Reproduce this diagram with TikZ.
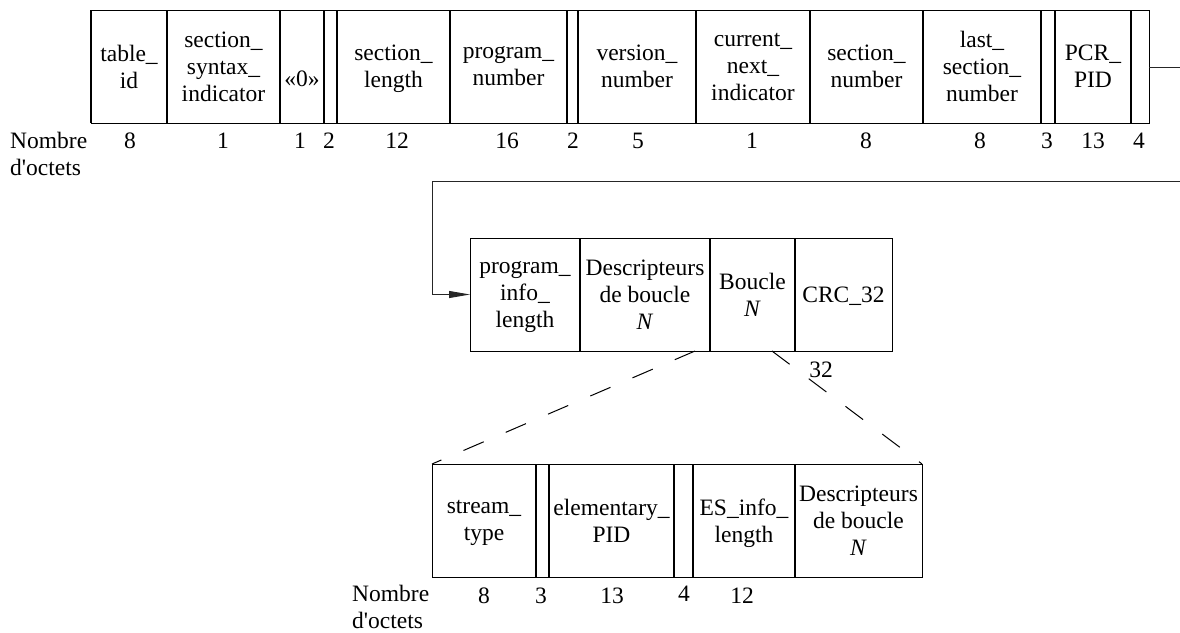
\documentclass[tikz,border=0pt]{standalone}
\usepackage{fontspec}
\setmainfont{Liberation Serif}
\usetikzlibrary{arrows.meta}
\newcommand\myfs{\fontsize{23.5}{27}\selectfont}
\newcommand\nodp[1]{\raisebox{0pt}[\height][0pt]{#1}}
\begin{document}
\begin{tikzpicture}[x=1pt,y=-1pt,
  cell/.style={draw, line width=1pt, inner sep=0pt, outer sep=0pt, anchor=north west,
    align=center, font=\myfs, minimum height=113pt},
  num/.style={font=\myfs, inner sep=0pt, anchor=base},
  nomb/.style={font=\myfs, inner sep=0pt, anchor=north west, align=left},
  div/.style={line width=1.7pt},
  conn/.style={line width=0.9pt, black!85},
  dsh/.style={line width=1pt, dash pattern=on 22pt off 24pt}]
\useasboundingbox (0,0) rectangle (1180,632);
% ---------- top row
\node[cell,minimum width=76pt]  (t1)  at (91,10)   {table\_\\id};
\node[cell,minimum width=113pt] (t2)  at (167,10)  {section\_\\syntax\_\\indicator};
\node[cell,minimum width=44pt]  (t3)  at (280,10)  {\raisebox{-19.5pt}[0pt][0pt]{«0»}};
\node[cell,minimum width=13pt]  (t4)  at (324,10)  {};
\node[cell,minimum width=113pt] (t5)  at (337,10)  {section\_\\\nodp{length}};
\node[cell,minimum width=117pt] (t6)  at (450,10)  {program\_\\number};
\node[cell,minimum width=11pt]  (t7)  at (567,10)  {};
\node[cell,minimum width=118pt] (t8)  at (578,10)  {version\_\\number};
\node[cell,minimum width=114pt] (t9)  at (696,10)  {current\_\\next\_\\indicator};
\node[cell,minimum width=113pt] (t10) at (810,10)  {section\_\\number};
\node[cell,minimum width=118pt] (t11) at (923,10)  {last\_\\section\_\\number};
\node[cell,minimum width=14pt]  (t12) at (1041,10) {};
\node[cell,minimum width=76pt]  (t13) at (1055,10) {PCR\_\\PID};
\node[cell,minimum width=18pt]  (t14) at (1131,10) {};
\foreach \i in {1,...,13} \draw[div] (t\i.north east) -- (t\i.south east);
\draw[div] (t1.north west) -- (t1.south west);
% numbers top
\node[nomb] (nb1) at (10,132) {Nombre\\d\textquotesingle octets};
\node[num] (n1)  at (130,148)  {8};
\node[num] (n2)  at (223,148)  {1};
\node[num] (n3)  at (300,148)  {1};
\node[num] (n4)  at (329,148)  {2};
\node[num] (n5)  at (397,148)  {12};
\node[num] (n6)  at (507,148)  {16};
\node[num] (n7)  at (573,148)  {2};
\node[num] (n8)  at (638,148)  {5};
\node[num] (n9)  at (752,148)  {1};
\node[num] (n10) at (866,148)  {8};
\node[num] (n11) at (980,148)  {8};
\node[num] (n12) at (1047,148) {3};
\node[num] (n13) at (1093,148) {13};
\node[num] (n14) at (1139,148) {4};
% ---------- middle row
\node[cell,minimum width=110pt] (m1) at (470,238) {program\_\\info\_\\\nodp{length}};
\node[cell,minimum width=130pt] (m2) at (580,238) {Descripteurs\\de boucle\\\textit{N}};
\node[cell,minimum width=85pt]  (m3) at (710,238) {Boucle\\\textit{N}};
\node[cell,minimum width=97pt]  (m4) at (795,238) {\nodp{CRC\_32}};
\foreach \i in {1,...,3} \draw[div] (m\i.north east) -- (m\i.south east);
\node[num] (n32) at (821,377) {32};
% ---------- bottom row
\node[cell,minimum width=104pt] (b1) at (432,464) {stream\_\\\nodp{type}};
\node[cell,minimum width=13pt]  (b2) at (536,464) {};
\node[cell,minimum width=125pt] (b3) at (549,464) {elementary\_\\PID};
\node[cell,minimum width=19pt]  (b4) at (674,464) {};
\node[cell,minimum width=102pt] (b5) at (693,464) {ES\_info\_\\\nodp{length}};
\node[cell,minimum width=127pt] (b6) at (795,464) {Descripteurs\\de boucle\\\textit{N}};
\foreach \i in {1,...,5} \draw[div] (b\i.north east) -- (b\i.south east);
\node[nomb] (nb2) at (352,585) {Nombre\\d\textquotesingle octets};
\node[num] (p1) at (484,603) {8};
\node[num] (p2) at (541,603) {3};
\node[num] (p3) at (612,603) {13};
\node[num] (p4) at (684,601) {4};
\node[num] (p5) at (742,603) {12};
% ---------- connectors
\coordinate (e1) at (1180,67.5);
\coordinate (e2) at (1180,181);
\draw[conn] (t14.east |- e1) -- (e1);
\draw[conn,-{Triangle[length=21pt,width=7pt]}] (e2) -| ([xshift=-38pt]m1.west) -- (m1.west);
\coordinate (d1) at (695,351);
\coordinate (d2) at (772,351);
\draw[dsh] (d1) -- (b1.north west);
\draw[dsh] (d2) -- (b6.north east);
\end{tikzpicture}
\end{document}
